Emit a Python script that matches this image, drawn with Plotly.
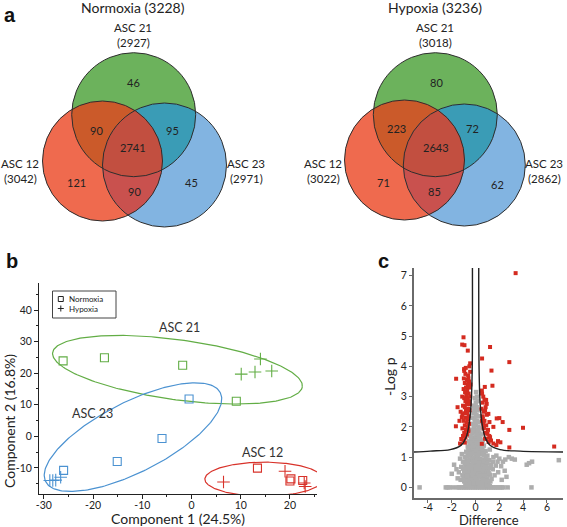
import numpy as np
import plotly.graph_objects as go

W, H = 567, 527
FONT = "Lato"

# ---------------- Panel a : Venn data ----------------
venn_titles = ["Normoxia (3228)", "Hypoxia (3236)"]
venn_set_names = ["ASC 21", "ASC 12", "ASC 23"]
venn_set_totals = [[2927, 3042, 2971], [3018, 3022, 2862]]
# region counts: only21, 21&12, 21&23, all, only12, 12&23, only23
venn_counts = [[46, 90, 95, 2741, 121, 90, 45],
               [80, 223, 72, 2643, 71, 85, 62]]

# ---------------- Panel b : PCA data ----------------
asc21_norm_x = [-26.1, -17.7, -1.8, 9.1]
asc21_norm_y = [23.9, 24.9, 22.5, 11.1]
asc21_hyp_x = [10.1, 12.9, 14.0, 16.3]
asc21_hyp_y = [19.7, 20.4, 24.5, 20.7]
asc23_norm_x = [-0.5, -6.0, -15.1, -26.0]
asc23_norm_y = [11.8, -0.7, -8.0, -10.8]
asc23_hyp_x = [-28.8, -28.2, -27.6, -26.6]
asc23_hyp_y = [-14.0, -14.0, -13.9, -13.0]
asc12_norm_x = [13.4, 20.0, 20.2, 22.6]
asc12_norm_y = [-10.1, -14.2, -13.5, -14.0]
asc12_hyp_x = [6.5, 19.0, 22.9, 23.1]
asc12_hyp_y = [-14.5, -11.1, -14.8, -15.9]
pca_x_ticks = [-30, -20, -10, 0, 10, 20]
pca_y_ticks = [-10, 0, 10, 20, 30, 40]
legend_names = ["Normoxia", "Hypoxia"]

# ---------------- Panel c : volcano data ----------------
red_x = [3.37, -1.01, -1.12, -0.93, -0.65, 1.22, -0.45, 0.55, 2.84, 1.34, -1.63, -0.96, -0.45,
         1.42, 0.78, 0.53, -1.51, -1.65, -1.15, 1.78, 2.0, 2.28, 2.84, 3.99, 1.89, 2.09, 2.84, 6.61,
         0.89, 0.94, 0.8, 1.08, 0.61, 0.69, 1.0, 1.22, 0.8, 0.53, 1.5, 1.17,
         -0.95, -0.85, -0.62, -0.98, -0.72, -0.55, -0.9, -0.66, -0.8, -0.5, -1.0, -0.7, -0.88, -0.58,
         -0.78, -0.45, -0.95, -0.65, -0.85, -0.55, -0.72, -0.48, -1.05, -0.9, -0.62, -0.8, -0.5, -0.95,
         -0.7, -1.1, -0.58, -0.85, -0.65, -1.0, -0.75, -0.55, -0.9, -0.68, -1.1, -0.8, -0.6, -0.95,
         -0.72, -1.05, -0.85, -1.0, -0.9, -1.2, -1.3, -0.62, -0.75, -0.6, -1.12, -1.25, -1.35, -0.42,
         -0.52, -0.82,
         0.55, 0.65, 0.75, 0.6, 0.5, 0.85, 0.7, 0.95, 0.6, 0.75, 0.65, 0.9, 0.7, 1.05, 0.85, 1.15,
         0.95, 1.3, 1.1, 1.5, 1.75, 0.55]
red_y = [7.08, 4.96, 4.72, 4.70, 4.52, 4.64, 4.10, 4.26, 4.14, 3.86, 3.59, 3.91, 3.82,
         3.36, 3.32, 3.20, 2.65, 2.02, 2.32, 2.28, 2.29, 2.16, 1.90, 1.97, 1.53, 1.49, 1.32, 1.35,
         2.89, 2.76, 2.54, 2.43, 2.27, 1.99, 1.77, 1.66, 1.61, 1.44, 2.0, 2.16,
         3.85, 3.75, 3.7, 3.6, 3.55, 3.5, 3.45, 3.4, 3.3, 3.3, 3.25, 3.2, 3.15, 3.1,
         3.05, 3.0, 2.95, 2.95, 2.85, 2.85, 2.75, 2.75, 2.7, 2.65, 2.6, 2.55, 2.55, 2.45,
         2.45, 2.4, 2.35, 2.3, 2.25, 2.2, 2.15, 2.1, 2.05, 2.0, 1.95, 1.9, 1.85, 1.8,
         1.75, 1.7, 1.65, 1.55, 1.48, 1.6, 1.45, 1.95, 2.9, 3.6, 3.0, 2.5, 2.2, 3.4,
         4.0, 3.95,
         3.1, 3.0, 2.9, 2.8, 2.6, 2.65, 2.5, 2.4, 2.35, 2.2, 2.1, 2.05, 1.95, 1.9, 1.8, 1.7,
         1.6, 1.55, 1.5, 1.45, 1.4, 2.2]

grey_x = [0.05, 0.12, -0.05, 0.18, 0.02, -0.12, 0.1, 0.22, -0.05, -0.18, 0.08, 0.28, -0.25, -0.08,
          0.15, 0.35, -0.3, 0.02, -0.15, 0.25, 0.42, -0.38, 0.1, -0.05, 0.32, -0.25, 0.5, -0.45,
          0.18, -0.12, 0.05, 0.4, -0.32, 0.6, -0.55, 0.25, -0.2, 0.0, 0.48, -0.4, 0.7, -0.65, 0.15,
          -0.1, 0.35, -0.3, 0.58, -0.5, 0.85, -0.78, 0.05, 0.25, -0.2, 0.45, -0.4, 0.7, -0.62, 1.0,
          -0.9, 0.12, -0.05, 0.35, -0.28, 0.55, -0.5, 0.8, -0.75, 1.15, -1.05, 0.2, 0.0, -0.15, 0.42,
          -0.38, 0.65, -0.6, 0.92, -0.85, 1.3, -1.2, 0.1, 0.3, -0.25, 0.5, -0.48, 0.78, -0.7, 1.05,
          -0.95, 1.45, 0.0, 0.2, -0.12, 0.4, -0.35, 0.62, -0.58, 0.88, -0.8, 1.2, -1.1, 0.08, 0.28,
          -0.22, 0.5, -0.45, 0.72, -0.68, 1.0, -0.92, 1.35, -1.25, 0.15, -0.05, 0.38, -0.3, 0.6,
          -0.55, 0.85, -0.8, 1.1, 0.0, 0.25, -0.18, 0.48, -0.42, 0.7, -0.65,
          1.2, 1.5, 1.75, 2.0, 2.3, 2.5, 2.8, 3.05, 3.3, 2.15, 2.45, 1.7, 4.3, 4.5, 4.75, 7.0, 2.6,
          1.9, 1.6, 2.2, 1.45, 1.85,
          -1.8, -1.6, -1.4, -2.0, -1.3, -1.5, -1.15,
          -4.7, -2.5, -2.35, -2.2, -1.9, -1.55, -1.4, -1.25, -1.1, -0.95, -0.8, -0.65, -0.5, -0.35,
          -0.2, -0.05, 0.1, 0.25, 0.4, 0.55, 0.7, 0.85, 1.0, 1.15, 1.3, 1.45, 1.6, 1.75, 1.9, 2.05,
          2.2, 2.35, 2.7, 4.7,
          -0.1, 0.05, -0.02, 0.2, -0.2, 0.08, -0.35, 0.3, -0.05, 0.12, -0.48, 0.55, -0.25, 0.28, 0.0,
          -0.42, 0.45, -0.6, 0.7, 0.15, -0.15, -0.3, 0.35, -0.5, 0.58, 0.0, -0.75, 0.85, 0.22, -0.18,
          -0.4, 0.45, 0.1, -0.62, 0.68, -0.05, 0.3, -0.25, -0.9, 1.0, 0.55, -0.5, 0.2, -0.1, 0.85,
          -0.78, 1.2, -1.05, 0.4, -0.35, 0.05, 0.65, -0.6, 0.95, -0.85, 0.3, -0.2, 1.1, -1.0, 0.8,
          -0.7, 0.4, 0.0, 0.62, -0.4, 0.9, -0.95, 1.25, 0.15, -0.2, 0.38, -0.55, 0.95, -0.85, 1.2]
grey_y = [3.15, 3.0, 2.95, 2.85, 2.8, 2.7, 2.65, 2.55, 2.5, 2.45, 2.4, 2.35, 2.3, 2.25,
          2.2, 2.15, 2.1, 2.05, 2.0, 2.0, 1.95, 1.9, 1.9, 1.82, 1.8, 1.78, 1.75, 1.7,
          1.7, 1.65, 1.6, 1.6, 1.58, 1.55, 1.52, 1.5, 1.48, 1.45, 1.42, 1.4, 1.38, 1.35, 1.35,
          1.3, 1.28, 1.25, 1.25, 1.22, 1.2, 1.18, 1.2, 1.15, 1.12, 1.1, 1.08, 1.08, 1.05, 1.05,
          1.0, 1.02, 0.98, 0.95, 0.95, 0.92, 0.9, 0.9, 0.88, 0.9, 0.85, 0.85, 0.8, 0.78, 0.8,
          0.75, 0.75, 0.72, 0.72, 0.7, 0.75, 0.68, 0.68, 0.65, 0.62, 0.6, 0.6, 0.6, 0.58, 0.58,
          0.55, 0.6, 0.55, 0.52, 0.48, 0.48, 0.45, 0.45, 0.45, 0.45, 0.42, 0.42, 0.4, 0.4, 0.36,
          0.34, 0.33, 0.32, 0.3, 0.3, 0.3, 0.28, 0.28, 0.25, 0.25, 0.22, 0.2, 0.2, 0.18,
          0.17, 0.16, 0.15, 0.15, 0.1, 0.1, 0.08, 0.07, 0.06, 0.05, 0.05,
          1.25, 1.0, 1.05, 0.95, 0.85, 0.92, 1.0, 0.95, 0.92, 0.7, 0.55, 0.72, 0.75, 0.8, 0.85, 0.9, 0.35,
          0.5, 0.4, 0.25, 0.85, 0.85,
          0.75, 0.6, 0.5, 0.45, 0.95, 0.3, 1.1,
          0, 0, 0, 0, 0, 0, 0, 0, 0, 0, 0, 0, 0, 0,
          0, 0, 0, 0, 0, 0, 0, 0, 0, 0, 0, 0, 0, 0, 0, 0,
          0, 0, 0, 0,
          2.6, 2.35, 2.15, 1.85, 1.88, 1.75, 1.62, 1.65, 1.55, 1.48, 1.46, 1.4, 1.38, 1.4, 1.32,
          1.3, 1.3, 1.25, 1.2, 1.25, 1.2, 1.15, 1.15, 1.1, 1.12, 1.08, 1.02, 1.0, 0.98, 0.95,
          0.92, 0.92, 0.9, 0.85, 0.85, 0.85, 0.8, 0.82, 0.8, 0.8, 0.72, 0.72, 0.7, 0.68, 0.68,
          0.65, 0.65, 0.62, 0.62, 0.58, 0.6, 0.55, 0.52, 0.5, 0.5, 0.45, 0.42, 0.48, 0.35, 0.38,
          0.38, 0.38, 0.32, 0.25, 0.25, 0.22, 0.2, 0.2, 0.15, 0.15, 0.12, 0.12, 0.08, 0.08, 0.05]

curve_left_x = [-5.17, -3.80, -2.13, -1.23, -0.79, -0.54, -0.37, -0.28, -0.26]
curve_left_y = [1.17, 1.20, 1.25, 1.39, 1.66, 2.10, 2.76, 3.86, 7.30]
curve_right_x = [0.27, 0.30, 0.39, 0.55, 0.80, 1.22, 2.06, 3.74, 7.37]
curve_right_y = [7.30, 3.86, 2.76, 2.10, 1.66, 1.39, 1.25, 1.20, 1.17]
volc_x_ticks = [-4, -2, 0, 2, 4, 6]
volc_y_ticks = [0, 1, 2, 3, 4, 5, 6, 7]

# ---------------- layout constants (pixels) ----------------
PCA_L, PCA_R, PCA_T, PCA_B = 39, 317, 283, 494
PCA_XR = [-31, 25.5]
PCA_YR = [-18.3, 48.6]
SX = (PCA_R - PCA_L) / (PCA_XR[1] - PCA_XR[0])
SY = (PCA_B - PCA_T) / (PCA_YR[1] - PCA_YR[0])
VO_L, VO_R, VO_T, VO_B = 414, 563, 268, 498
VO_XR = [-5.17, 7.35]
VO_YR = [-0.35, 7.25]

GREEN, RED, BLUE = "#62ad45", "#d8322a", "#4b92d1"


def X(px):
    return px / W


def Y(py):
    return 1 - py / H


fig = go.Figure()

# ---------------- PCA ----------------
def ellipse(cx, cy, a, b, th):
    t = np.linspace(0, 2 * np.pi, 240)
    th = np.radians(th)
    dx = a * np.cos(t) * np.cos(th) - b * np.sin(t) * np.sin(th)
    dy = a * np.cos(t) * np.sin(th) + b * np.sin(t) * np.cos(th)
    return cx + dx / SX, cy + dy / SY

for (cx, cy, a, b, th, col) in [(-2.86, 21.1, 126, 30, -7.8, GREEN),
                                (-11.9, -0.27, 98, 35, 27, BLUE),
                                (14.7, -13.6, 59, 17, 0, RED)]:
    ex, ey = ellipse(cx, cy, a, b, th)
    fig.add_trace(go.Scatter(x=ex, y=ey, mode="lines", line=dict(color=col, width=1.2),
                             showlegend=False, hoverinfo="skip", xaxis="x", yaxis="y"))

sq = dict(symbol="square-open", size=8, line=dict(width=1.1))
cr = dict(symbol="cross-thin-open", size=9, line=dict(width=1.1))
for xs, ys, col, m in [(asc21_norm_x, asc21_norm_y, GREEN, sq), (asc21_hyp_x, asc21_hyp_y, GREEN, cr),
                       (asc23_norm_x, asc23_norm_y, BLUE, sq), (asc23_hyp_x, asc23_hyp_y, BLUE, cr),
                       (asc12_norm_x, asc12_norm_y, RED, sq), (asc12_hyp_x, asc12_hyp_y, RED, cr)]:
    mk = dict(m)
    mk["color"] = col
    mk["line"] = dict(m["line"], color=col)
    fig.add_trace(go.Scatter(x=xs, y=ys, mode="markers", marker=mk, showlegend=False,
                             xaxis="x", yaxis="y"))

# ---------------- Volcano ----------------
fig.add_trace(go.Scatter(x=grey_x, y=grey_y, mode="markers",
                         marker=dict(symbol="square", size=4.5, color="#adadad"),
                         showlegend=False, xaxis="x2", yaxis="y2"))
fig.add_trace(go.Scatter(x=red_x, y=red_y, mode="markers",
                         marker=dict(symbol="square", size=4, color="#d42b20"),
                         showlegend=False, xaxis="x2", yaxis="y2"))
for cx_, cy_ in [(curve_left_x, curve_left_y), (curve_right_x, curve_right_y)]:
    fig.add_trace(go.Scatter(x=cx_, y=cy_, mode="lines", line=dict(color="#222", width=1.4, shape="spline"),
                             showlegend=False, xaxis="x2", yaxis="y2"))

# ---------------- Venn shapes (paper coords) ----------------
C_G, C_R, C_B = "#6cb25c", "#ef6a4e", "#82b4e1"
C_RG, C_GB, C_RB, C_RGB = "#cb5a2a", "#3a9cb6", "#c9514e", "#c24f40"

venn_geom = [[(133.7, 114.7, 62), (102.5, 161, 60), (164.5, 165, 62)],
             [(435.3, 114.7, 62), (404.5, 160, 60), (464.3, 165, 61)]]


def region_path(circs):
    pts = []
    for i, (cx, cy, r) in enumerate(circs):
        t = np.linspace(0, 2 * np.pi, 720, endpoint=False)
        px = cx + r * np.cos(t)
        py = cy + r * np.sin(t)
        ok = np.ones_like(px, dtype=bool)
        for j, (cx2, cy2, r2) in enumerate(circs):
            if j != i:
                ok &= (px - cx2) ** 2 + (py - cy2) ** 2 <= r2 ** 2 + 1e-6
        pts += list(zip(px[ok], py[ok]))
    pts = np.array(pts)
    mx, my = pts[:, 0].mean(), pts[:, 1].mean()
    order = np.argsort(np.arctan2(pts[:, 1] - my, pts[:, 0] - mx))
    pts = pts[order]
    return "M " + " L ".join(f"{X(x):.5f},{Y(y):.5f}" for x, y in pts) + " Z"


def circ(cx, cy, r, **kw):
    return dict(type="circle", xref="paper", yref="paper", x0=X(cx - r), x1=X(cx + r),
                y0=Y(cy + r), y1=Y(cy - r), layer="above", **kw)


shapes = []
for g in venn_geom:
    cg, cr_, cb = g
    for (cx, cy, r), col in [(cg, C_G), (cr_, C_R), (cb, C_B)]:
        shapes.append(circ(cx, cy, r, fillcolor=col, line=dict(width=0)))
    for circs, col in [([cg, cr_], C_RG), ([cg, cb], C_GB), ([cr_, cb], C_RB), ([cg, cr_, cb], C_RGB)]:
        shapes.append(dict(type="path", xref="paper", yref="paper", path=region_path(circs),
                           fillcolor=col, line=dict(width=0), layer="above"))
    for (cx, cy, r) in g:
        shapes.append(circ(cx, cy, r, line=dict(color="#2e2e2e", width=1)))

# manual legend for panel b
shapes.append(dict(type="rect", xref="paper", yref="paper", x0=X(52.5), x1=X(116), y0=Y(318), y1=Y(291),
                   line=dict(color="#444", width=1), fillcolor="white", layer="above"))
shapes.append(dict(type="rect", xref="paper", yref="paper", x0=X(58.3), x1=X(63.3), y0=Y(301.5), y1=Y(296.5),
                   line=dict(color="#222", width=1), layer="above"))
shapes.append(dict(type="line", xref="paper", yref="paper", x0=X(57.8), x1=X(63.8), y0=Y(308.5), y1=Y(308.5),
                   line=dict(color="#222", width=1), layer="above"))
shapes.append(dict(type="line", xref="paper", yref="paper", x0=X(60.8), x1=X(60.8), y0=Y(305.5), y1=Y(311.5),
                   line=dict(color="#222", width=1), layer="above"))

anns = []


def txt(x, y, s, size=11, color="#222", family=FONT, angle=0, bold=False, xanchor="center"):
    if bold:
        s = "<b>" + s + "</b>"
    anns.append(dict(x=X(x), y=Y(y), xref="paper", yref="paper", text=s, showarrow=False, textangle=angle,
                     font=dict(size=size, color=color, family=family), xanchor=xanchor, yanchor="middle",
                     borderpad=0))


txt(67.5, 299, legend_names[0], size=8, xanchor="left")
txt(67.5, 308.5, legend_names[1], size=8, xanchor="left")

title_pos = [(133, 8), (435, 8)]
set_label_pos = [[(133, 28), (20, 163), (246, 163)], [(435, 28), (323, 163), (544, 163)]]
count_pos = [[(133, 83), (96, 130), (172, 130), (133, 147), (76, 182), (134, 191), (191, 183)],
             [(436, 83), (396, 129), (472, 129), (436, 148), (383, 183), (434, 192), (497, 184)]]
for k in range(2):
    txt(*title_pos[k], venn_titles[k], size=14)
    for (x, y), nm, tot in zip(set_label_pos[k], venn_set_names, venn_set_totals[k]):
        txt(x, y, nm, size=11.5)
        txt(x, y + 15, f"({tot})", size=11.5)
    for (x, y), c in zip(count_pos[k], venn_counts[k]):
        txt(x, y, str(c), size=11)

# panel letters
txt(10, 15, "a", size=20, family="Liberation Sans", color="#111", bold=True)
txt(12, 261, "b", size=20, family="Liberation Sans", color="#111", bold=True)
txt(383, 261, "c", size=20, family="Liberation Sans", color="#111", bold=True)

# axis titles
txt(178, 518, "Component 1 (24.5%)", size=14)
txt(9, 421, "Component 2 (16.8%)", size=14, angle=-90)
txt(489, 519.5, "Difference", size=13)
txt(389, 377, "-Log p", size=14, angle=-90)

# PCA group labels (data coords)
for x, y, s in [(-2.4, 34.4, "ASC 21"), (-20.2, 7.2, "ASC 23"), (14.4, -5.2, "ASC 12")]:
    anns.append(dict(x=x, y=y, xref="x", yref="y", text=s, showarrow=False,
                     font=dict(size=12.5, color="#333", family=FONT)))


def dom(a, b, total):
    return [a / total, b / total]


tickfont = dict(size=10.5, family=FONT, color="#222")
vtickfont = dict(size=10.5, family=FONT, color="#222")
fig.update_layout(
    width=W, height=H, autosize=False,
    margin=dict(l=0, r=0, t=0, b=0, pad=0, autoexpand=False),
    paper_bgcolor="white", plot_bgcolor="white",
    showlegend=False,
    shapes=shapes, annotations=anns,
    xaxis=dict(domain=dom(PCA_L, PCA_R, W), range=PCA_XR, showgrid=False, zeroline=False,
               showline=True, linecolor="#222", linewidth=1, ticks="outside", ticklen=4, tickcolor="#222",
               tickvals=pca_x_ticks, ticktext=[str(v) for v in pca_x_ticks], tickfont=tickfont,
               ticklabelstandoff=-3,
               minor=dict(tickvals=[-25, -15, -5, 5, 15, 25], ticks="outside", ticklen=2, tickcolor="#222"),
               anchor="y"),
    yaxis=dict(domain=dom(H - PCA_B, H - PCA_T, H), range=PCA_YR, showgrid=False, zeroline=False,
               showline=True, linecolor="#222", linewidth=1, ticks="outside", ticklen=4, tickcolor="#222",
               tickvals=pca_y_ticks, ticktext=[str(v) for v in pca_y_ticks], tickfont=tickfont,
               minor=dict(tickvals=[-15, -5, 5, 15, 25, 35, 45], ticks="outside", ticklen=2, tickcolor="#222"),
               anchor="x"),
    xaxis2=dict(domain=dom(VO_L, VO_R, W), range=VO_XR, showgrid=False, zeroline=False,
                showline=True, linecolor="#6a6a6a", linewidth=2, ticks="outside", ticklen=3, tickcolor="#6a6a6a",
                tickvals=volc_x_ticks, ticktext=[str(v) for v in volc_x_ticks],
                tickfont=vtickfont, ticklabelstandoff=-5, anchor="y2"),
    yaxis2=dict(domain=dom(H - VO_B, H - VO_T, H), range=VO_YR, showgrid=False, zeroline=False,
                showline=True, linecolor="#6a6a6a", linewidth=2, ticks="outside", ticklen=3, tickcolor="#6a6a6a",
                tickvals=volc_y_ticks, ticktext=[str(v) for v in volc_y_ticks],
                tickfont=vtickfont, anchor="x2"),
)

fig.write_html("out.html", config={"displayModeBar": False},
               post_script="document.body.style.margin='0';document.body.style.overflow='hidden';")
